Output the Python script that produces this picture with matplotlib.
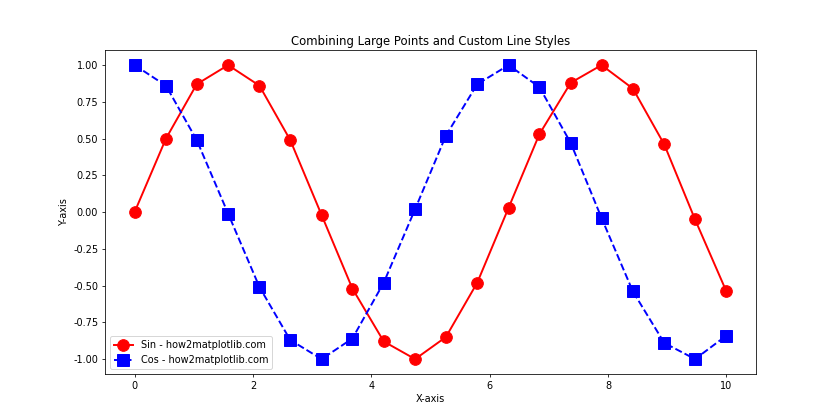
import matplotlib.pyplot as plt

# Valores
x = [0.00, 0.53, 1.05, 1.58, 2.11, 2.63, 3.16, 3.68, 4.21, 4.74,
     5.26, 5.79, 6.32, 6.84, 7.37, 7.89, 8.42, 8.95, 9.47, 10.00]
y_sin = [0.00, 0.50, 0.87, 1.00, 0.86, 0.49, -0.02, -0.52, -0.88, -1.00,
         -0.85, -0.48, 0.03, 0.53, 0.88, 1.00, 0.84, 0.46, -0.05, -0.54]
y_cos = [1.00, 0.86, 0.49, -0.01, -0.51, -0.87, -1.00, -0.86, -0.48, 0.02,
         0.52, 0.87, 1.00, 0.85, 0.47, -0.04, -0.54, -0.89, -1.00, -0.84]

fig, ax = plt.subplots(figsize=(12, 6), dpi=70)
ax.plot(x, y_sin, color='red', linestyle='-', linewidth=2, marker='o',
        markersize=12, label='Sin - how2matplotlib.com')
ax.plot(x, y_cos, color='blue', linestyle='--', linewidth=2, marker='s',
        markersize=12, label='Cos - how2matplotlib.com')
ax.set_title('Combining Large Points and Custom Line Styles')
ax.set_xlabel('X-axis')
ax.set_ylabel('Y-axis')
ax.set_yticks([-1.0, -0.75, -0.5, -0.25, 0.0, 0.25, 0.5, 0.75, 1.0])
ax.set_yticklabels(['-1.00', '-0.75', '-0.50', '-0.25', '0.00',
                    '0.25', '0.50', '0.75', '1.00'])
ax.legend(loc='lower left')
fig.savefig('out.png')
